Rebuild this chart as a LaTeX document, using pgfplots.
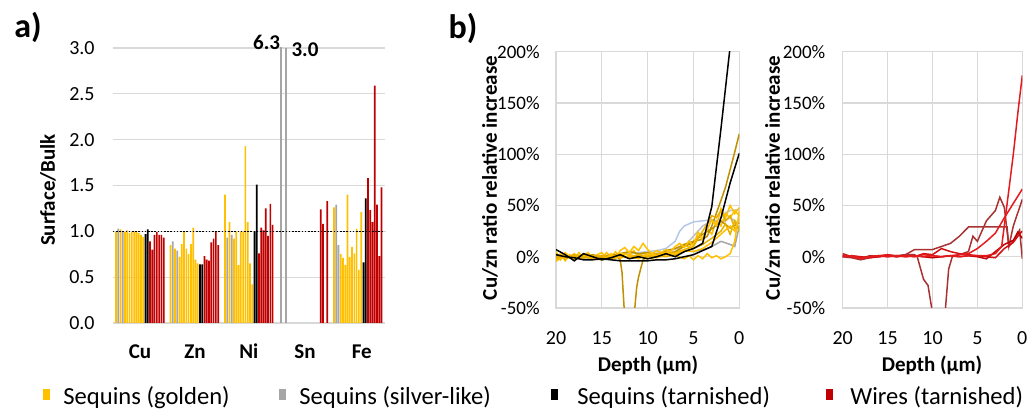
\documentclass[border=0pt]{standalone}
\usepackage{fontspec}
\setmainfont{Carlito}
\usepackage{pgfplots}
\pgfplotsset{compat=1.18}
\definecolor{gold}{HTML}{FFC000}
\definecolor{goldB}{HTML}{E6B000}
\definecolor{goldD}{HTML}{BF9000}
\definecolor{silver}{HTML}{A6A6A6}
\definecolor{silverL}{HTML}{BFBFBF}
\definecolor{lblue}{HTML}{B4C7E7}
\definecolor{wire}{HTML}{C00000}
\definecolor{redB}{HTML}{E41A1C}
\definecolor{redM}{HTML}{D01010}
\definecolor{brownR}{HTML}{A83232}
\definecolor{gridc}{HTML}{D9D9D9}
\begin{document}
\begin{tikzpicture}
\path[use as bounding box] (0,0) rectangle (516.5pt,207.5pt);
% ---------------- panel a ----------------
\begin{axis}[scale only axis, width=136.15pt, height=137.5pt, at={(56.35pt,46pt)}, anchor=south west,
  xmin=-1.45, xmax=118.5, ymin=0, ymax=3, ytick={0,0.5,1,1.5,2,2.5,3},
  ymajorgrids, grid style={draw=gridc, line width=0.6pt},
  axis line style={draw=none}, major tick length=0pt,
  xtick={10.6,34.8,58.5,83.3,108.3}, xticklabels={Cu,Zn,Ni,Sn,Fe},
  xticklabel style={font=\fontsize{10.5}{12}\selectfont\bfseries, anchor=base, inner sep=0pt, yshift=-18pt},
  yticklabel style={font=\fontsize{10}{12}\selectfont, anchor=east, inner sep=0pt, xshift=-8.85pt,
    /pgf/number format/.cd, fixed, fixed zerofill, precision=1},
  /pgf/number format/assume math mode=true]
\addplot[ybar, bar width=0.75, bar shift=0pt, fill=gold, draw=none] coordinates {
 (0,0.99)(2,1.02)(4,0.99)(5,1.01)(6,0.98)(7,0.99)(8,1.00)(9,1.00)(10,0.98)(11,0.96)(12,0.94)
 (24,0.85)(26,0.81)(28,0.72)(29,0.86)(30,1.00)(31,0.81)(32,0.75)(33,0.86)(34,1.04)(35,0.69)(36,0.65)
 (48,1.40)(50,1.10)(52,0.92)(53,1.00)(54,0.63)(55,1.00)(56,1.00)(57,1.93)(58,1.10)(59,0.65)(60,0.42)
 (96,1.26)(99,0.75)(100,0.71)(101,0.63)(102,1.40)(103,0.72)(104,0.83)(105,0.76)(106,1.03)(107,0.58)(108,1.21)};
\addplot[ybar, bar width=0.75, bar shift=0pt, fill=silver, draw=none] coordinates {
 (1,1.03)(3,1.00)(25,0.89)(27,0.79)(49,0.93)(51,0.96)(97,1.29)(98,0.85)};
\addplot[ybar, bar width=0.6, bar shift=0pt, fill=silverL!40, draw=silver, line width=0.4pt] coordinates {
 (72.7,6.3)(74.9,3.0)};
\addplot[ybar, bar width=0.75, bar shift=0pt, fill=black, draw=none] coordinates {
 (13,0.97)(14,1.02)(37,0.64)(38,0.64)(61,1.00)(62,1.51)(109,0.66)(110,1.36)};
\addplot[ybar, bar width=0.75, bar shift=0pt, fill=wire, draw=none] coordinates {
 (15,0.89)(16,0.80)(17,0.96)(18,0.99)(19,0.96)(20,0.96)(21,0.93)
 (39,0.73)(40,0.69)(41,0.68)(42,0.88)(43,0.92)(44,0.99)(45,0.85)
 (63,0.76)(64,1.04)(65,1.01)(66,1.25)(67,0.95)(68,1.30)(69,1.07)
 (90.2,1.24)(91.2,1.08)(93.1,1.33)
 (111,1.58)(112,1.23)(113,1.10)(114,2.59)(115,1.29)(116,0.73)(117,1.48)};
\addplot[black, line width=0.8pt, dash pattern=on 0.8pt off 0.8pt] coordinates {(-1.45,1)(118.5,1)};
\end{axis}
\node[font=\fontsize{10.5}{12}\selectfont\bfseries] at (133.3pt,186.25pt) {6.3};
\node[font=\fontsize{10.5}{12}\selectfont\bfseries] at (152.5pt,182.5pt) {3.0};
\node[font=\fontsize{10.5}{12}\selectfont\bfseries, rotate=90] at (24pt,112.5pt) {Surface/Bulk};
\node[font=\fontsize{17}{20}\selectfont\bfseries] at (14pt,194pt) {a)};
\node[font=\fontsize{17}{20}\selectfont\bfseries] at (231.5pt,193.5pt) {b)};
% ---------------- panel b1 ----------------
\begin{axis}[scale only axis, width=91.65pt, height=128.15pt, at={(278pt,53.5pt)}, anchor=south west,
  xmin=0, xmax=20, x dir=reverse, ymin=-50, ymax=200,
  xtick={0,5,10,15,20}, ytick={-50,0,50,100,150,200}, yticklabels={-50\%,0\%,50\%,100\%,150\%,200\%},
  grid=major, grid style={draw=gridc, line width=0.6pt},
  axis line style={draw=gridc, line width=0.6pt}, major tick length=0pt,
  xticklabel style={font=\fontsize{10}{12}\selectfont, anchor=north, inner sep=0pt, yshift=-11.8pt},
  yticklabel style={font=\fontsize{9.5}{11}\selectfont, anchor=east, inner sep=0pt, xshift=-8pt},
  /pgf/number format/assume math mode=true,
  every axis plot/.append style={line width=0.75pt, mark=none}]
\addplot[silver] coordinates {(20,0)(19,-1)(18,1)(17,0)(16,-2)(15,-3)(14,-2)(13,0)(12,-1)(11,0)(10,1)(9,2)(8,3)(7,4)(6,6)(5,5)(4,7)(3.5,8)(3,10)(2,15)(1,12)(0.5,10)(0,30)};
\addplot[silverL] coordinates {(20,1)(18,0)(16,-2)(14,-1)(12,0)(10,2)(8,5)(6,10)(5,20)(4,30)(3,35)(2,33)(1,38)(0,32)};
\addplot[lblue] coordinates {(20,2)(19,1)(18,0)(17,1)(16,2)(15,0)(14,1)(13,2)(12,3)(11,4)(10,5)(9,6)(8,8)(7,15)(6.5,25)(6,30)(5,34)(4,35)(3,36)(2.5,35)(2,38)(1.5,43)(1,45)(0,46)};
\addplot[gold] coordinates {(20,-5)(19.5,3)(19,-4)(18.5,2)(18,-3)(17.5,4)(17,-2)(16.5,3)(16,-1)(15.5,2)(15,-3)(14.5,4)(14,0)(13.5,5)(13,-2)(12.5,3)(12,1)(11.5,6)(11,-1)(10.5,4)(10,2)(9.5,-2)(9,3)(8.5,0)(8,5)(7.5,2)(7,4)(6.5,8)(6,12)(5.5,9)(5,15)(4.5,20)(4,18)(3.5,28)(3,22)(2.5,35)(2,30)(1.5,42)(1,38)(0.5,45)(0,40)};
\addplot[goldD] coordinates {(20,0)(19,2)(18,-1)(17,1)(16,-2)(15,0)(14,2)(13.5,1)(13,-3)(12.8,-15)(12.5,-60)(12,-65)(11.5,-60)(11.2,-30)(11,-20)(10.5,-3)(10,1)(9,0)(8,3)(7,5)(6,10)(5,14)(4,22)(3,27)(2,35)(1,28)(0,33)};
\addplot[goldD] coordinates {(20,3)(19,-2)(18,1)(17,-1)(16,2)(15,-1)(14,1)(13,3)(12,5)(11,3)(10,4)(9,2)(8,6)(7,8)(6,12)(5,15)(4,17)(3.5,20)(3,30)(2,55)(1.5,68)(1,85)(0.5,102)(0,120)};
\addplot[gold] coordinates {(20,-3)(19.5,2)(19,-2)(18.5,1)(18,-1)(17,2)(16,0)(15,1)(14,-1)(13,3)(12,2)(11,0)(10,1)(9,-1)(8,2)(7,1)(6,-2)(5.5,1)(5,-3)(4.5,1)(4,-2)(3.5,3)(3,-1)(2.5,1)(2,-2)(1.5,0)(1,3)(0.5,15)(0,45)};
\addplot[gold] coordinates {(20,5)(19.5,-3)(19,4)(18.5,0)(18,3)(17.5,-2)(17,1)(16.5,4)(16,-1)(15.5,2)(15,4)(14.5,-1)(14,3)(13.5,-2)(13,6)(12.5,9)(12,4)(11.5,10)(11,6)(10.5,13)(10,7)(9.5,3)(9,6)(8.5,4)(8,7)(7.5,5)(7,10)(6.5,13)(6,9)(5.5,15)(5,11)(4.5,24)(4,16)(3.5,27)(3,36)(2.5,30)(2,47)(1.5,38)(1,50)(0.5,42)(0,48)};
\addplot[goldB] coordinates {(20,-2)(19,1)(18,0)(17,-1)(16,1)(15,0)(14,-2)(13,1)(12,-1)(11,2)(10,0)(9,3)(8,2)(7,4)(6,7)(5,10)(4.5,18)(4,25)(3.5,32)(3,40)(2.5,38)(2,45)(1.5,35)(1,40)(0.5,28)(0,30)};
\addplot[goldB] coordinates {(20,1)(19,-1)(18,2)(17,0)(16,-2)(15,1)(14,0)(13,2)(12,-1)(11,1)(10,-2)(9,1)(8,0)(7,2)(6,5)(5,8)(4,12)(3,18)(2,25)(1.5,32)(1,22)(0.5,35)(0,25)};
\addplot[gold] coordinates {(20,-4)(19,0)(18,-2)(17,2)(16,-1)(15,-3)(14,1)(13,-1)(12,0)(11,-2)(10,3)(9,1)(8,4)(7,3)(6,6)(5,5)(4,8)(3,14)(2,22)(1,30)(0.5,25)(0,37)};
\addplot[black] coordinates {(20,7)(19,2)(18,-4)(17,3)(16,0)(15,-3)(14,-1)(13,2)(12,-2)(11,0)(10,-2)(9,0)(8,3)(7,0)(6,5)(5,8)(4,13)(3,49)(2,125)(1,205)(0,300)};
\addplot[black] coordinates {(20,2)(19,0)(18,-1)(17,-3)(16,-3)(15,-2)(14,-3)(13,-4)(12,-4)(11,-4)(10,-4)(9,-3)(8,-3)(7,-2)(6,0)(5,2)(4,6)(3,10)(2,38)(1,72)(0,101)};
\end{axis}
\node[font=\fontsize{10.5}{12}\selectfont\bfseries, rotate=90] at (245pt,118.5pt) {Cu/zn ratio relative increase};
\node[font=\fontsize{10.5}{12}\selectfont\bfseries] at (324pt,25pt) {Depth (µm)};
% ---------------- panel b2 ----------------
\begin{axis}[scale only axis, width=89.8pt, height=128.15pt, at={(421.35pt,53.5pt)}, anchor=south west,
  xmin=0, xmax=20, x dir=reverse, ymin=-50, ymax=200,
  xtick={0,5,10,15,20}, ytick={-50,0,50,100,150,200}, yticklabels={-50\%,0\%,50\%,100\%,150\%,200\%},
  grid=major, grid style={draw=gridc, line width=0.6pt},
  axis line style={draw=gridc, line width=0.6pt}, major tick length=0pt,
  xticklabel style={font=\fontsize{10}{12}\selectfont, anchor=north, inner sep=0pt, yshift=-11.8pt},
  yticklabel style={font=\fontsize{9.5}{11}\selectfont, anchor=east, inner sep=0pt, xshift=-8.5pt},
  /pgf/number format/assume math mode=true,
  every axis plot/.append style={line width=0.75pt, mark=none}]
\addplot[brownR] coordinates {(20,0)(19,-1)(18,-3)(17,-1)(16,0)(15,1)(14,0)(13,2)(12,7)(11,7)(10,7)(9,10)(8,13)(7,20)(6,29)(5,29)(4,29)(3,29)(2,29)(1.7,29)(1.5,10)(1,15)(0.3,26)(0,-2)};
\addplot[brownR] coordinates {(20,3)(19,0)(18,-2)(17,1)(16,0)(15,2)(14,1)(13,2)(12,2)(11.7,0)(11,-22)(10.5,-28)(10,-55)(9.2,-90)(8.6,-55)(8.2,-12)(7.8,0)(7,2)(6,5)(5.5,20)(5,15)(4,35)(3,45)(2.5,58)(2,48)(1.5,10)(1,30)(0,56)};
\addplot[wire] coordinates {(20,1)(19,0)(18,-1)(17,0)(16,1)(15,0)(14,1)(13,0)(12,1)(11,0)(10,-1)(9,0)(8,1)(7,0)(6,1)(5,0)(4,-2)(3,5)(2,12)(1,16)(0.5,24)(0,18)};
\addplot[redM] coordinates {(20,0)(19,1)(18,0)(17,-1)(16,0)(15,1)(14,0)(13,1)(12,0)(11,3)(10,2)(9,8)(8,5)(7,3)(6,2)(5,1)(4,0)(3,-1)(2,8)(1,14)(0.5,20)(0,25)};
\addplot[redB] coordinates {(20,0)(19,1)(18,-1)(17,0)(16,1)(15,2)(14,0)(13,1)(12,0)(11,2)(10,1)(9,0)(8,1)(7,2)(6,3)(5,8)(4,15)(3,23)(2,38)(1,52)(0,66)};
\addplot[redB] coordinates {(20,2)(19,0)(18,-2)(17,0)(16,1)(15,0)(14,1)(13,0)(12,1)(11,0)(10,1)(9,0)(8,1)(7,0)(6,1)(5,1)(4,1)(3,3)(2.3,10)(1.5,65)(1,100)(0.5,140)(0,177)};
\end{axis}
\node[font=\fontsize{10.5}{12}\selectfont\bfseries, rotate=90] at (386.5pt,118.5pt) {Cu/zn ratio relative increase};
\node[font=\fontsize{10.5}{12}\selectfont\bfseries] at (466pt,25pt) {Depth (µm)};
% ---------------- legend ----------------
\fill[gold] (21.5pt,7.5pt) rectangle (25pt,13pt);
\fill[silver] (139.4pt,7.5pt) rectangle (142.9pt,13pt);
\fill[black] (275.7pt,7.5pt) rectangle (279.2pt,13pt);
\fill[wire] (412.8pt,7.5pt) rectangle (416.3pt,13pt);
\node[font=\fontsize{12.3}{14}\selectfont, anchor=base west, inner sep=0pt] at (31.5pt,5pt) {Sequins (golden)};
\node[font=\fontsize{12.3}{14}\selectfont, anchor=base west, inner sep=0pt] at (149.5pt,5pt) {Sequins (silver-like)};
\node[font=\fontsize{12.3}{14}\selectfont, anchor=base west, inner sep=0pt] at (288.5pt,5pt) {Sequins (tarnished)};
\node[font=\fontsize{12.3}{14}\selectfont, anchor=base west, inner sep=0pt] at (425pt,5pt) {Wires (tarnished)};
\end{tikzpicture}
\end{document}
